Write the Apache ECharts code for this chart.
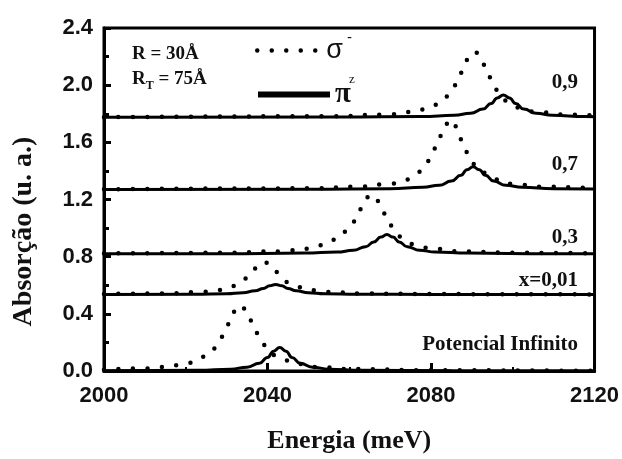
<!DOCTYPE html>
<html>
<head>
<meta charset="utf-8">
<style>html,body{margin:0;background:#fff}#chart{width:622px;height:459px}</style>
<script src="https://cdn.jsdelivr.net/npm/echarts@6/dist/echarts.min.js"></script>
</head>
<body>
<div id="chart"></div>
<script>
// [energy (meV), absorption (u. a.)], one pair of curves per panel
var sigmaInf = [[2000,0.008],[2010,0.018],[2015,0.028],[2020,0.051],[2023,0.077],[2025,0.108],[2027,0.158],[2029,0.24],[2030.5,0.327],[2032,0.417],[2033.5,0.46],[2035,0.417],[2036.5,0.327],[2038,0.24],[2040,0.158],[2042,0.108],[2044,0.077],[2047,0.051],[2052,0.028],[2060,0.014],[2080,0.005],[2120,0.001]];
var piInf = [[2000,0.001],[2023,0.005],[2031,0.013],[2035,0.027],[2038,0.054],[2040,0.095],[2041.5,0.139],[2043,0.165],[2044.5,0.139],[2046,0.095],[2048,0.054],[2051,0.027],[2055,0.013],[2063,0.005],[2085,0.0015],[2120,0.0005]];

var sigma001 = [[2000,0.539],[2015,0.542],[2024,0.553],[2028,0.567],[2031,0.588],[2033,0.615],[2034.7,0.647],[2036.2,0.692],[2037.7,0.741],[2039.2,0.765],[2040.7,0.741],[2042.2,0.692],[2043.7,0.647],[2045.2,0.615],[2047.2,0.588],[2050.2,0.567],[2054,0.553],[2064,0.542],[2080,0.538],[2120,0.536]];
var pi001 = [[2000,0.5355],[2022,0.5375],[2030,0.541],[2034,0.548],[2037,0.561],[2039,0.578],[2040.5,0.596],[2042,0.605],[2043.5,0.596],[2045,0.578],[2047,0.561],[2050,0.548],[2054,0.541],[2062,0.5375],[2080,0.536],[2120,0.535]];

var sigma03 = [[2000,0.822],[2030,0.827],[2043,0.837],[2050,0.856],[2054,0.882],[2057,0.923],[2059,0.974],[2060.7,1.032],[2062.2,1.111],[2063.7,1.195],[2065.2,1.235],[2066.7,1.195],[2068.2,1.111],[2069.7,1.032],[2071.2,0.974],[2073.2,0.923],[2076.2,0.882],[2080.2,0.856],[2087,0.837],[2100,0.827],[2120,0.823]];
var pi03 = [[2000,0.8205],[2029,0.821],[2049,0.825],[2057,0.832],[2061,0.845],[2064,0.869],[2066,0.903],[2067.7,0.937],[2069.2,0.955],[2070.7,0.937],[2072.2,0.903],[2074.2,0.869],[2077.2,0.845],[2081,0.832],[2089,0.825],[2109,0.821],[2120,0.8205]];

var sigma07 = [[2000,1.2715],[2050,1.278],[2063,1.29],[2070,1.31],[2074,1.34],[2076.7,1.388],[2078.7,1.446],[2080.2,1.515],[2081.7,1.609],[2083.2,1.711],[2084.7,1.76],[2086.2,1.711],[2087.7,1.609],[2089.2,1.515],[2090.7,1.446],[2092.7,1.388],[2095.7,1.34],[2099.7,1.31],[2106.7,1.29],[2120,1.278]];
var pi07 = [[2000,1.2705],[2050,1.2715],[2070,1.276],[2078,1.285],[2082,1.2995],[2085,1.329],[2087.3,1.369],[2088.8,1.408],[2090.3,1.43],[2091.8,1.408],[2093.3,1.369],[2095.3,1.329],[2098.3,1.2995],[2102.3,1.285],[2110,1.276],[2120,1.2735]];

var sigma09 = [[2000,1.776],[2055.7,1.7825],[2068.7,1.7935],[2075.7,1.8125],[2079.7,1.841],[2082.7,1.886],[2084.7,1.94],[2086.2,2.005],[2087.7,2.093],[2089.2,2.189],[2090.7,2.235],[2092.2,2.189],[2093.7,2.093],[2095.2,2.005],[2096.7,1.94],[2098.7,1.886],[2101.7,1.841],[2105.7,1.8125],[2112.7,1.7935],[2120,1.787]];
var pi09 = [[2000,1.7755],[2058,1.7765],[2077.7,1.7805],[2085.7,1.7895],[2089.7,1.804],[2092.7,1.8325],[2094.7,1.872],[2096.2,1.911],[2097.7,1.932],[2099.2,1.911],[2100.7,1.872],[2102.7,1.8325],[2105.7,1.804],[2109.7,1.7895],[2117.7,1.7805],[2120,1.779]];

var sigmaSets = [sigmaInf, sigma001, sigma03, sigma07, sigma09];
var piSets = [piInf, pi001, pi03, pi07, pi09];
var panelLabels = ['Potencial Infinito', 'x=0,01', '0,3', '0,7', '0,9'];
var labelY = [345, 281, 238, 165, 83];

var chart = echarts.init(document.getElementById('chart'));

var dotStyle = { color: '#000', width: 4.5, type: [0, 14.5], cap: 'round' };

var series = [];
piSets.forEach(function (d) {
  series.push({
    name: 'pi', type: 'line', data: d, smooth: 0.5, smoothMonotone: 'x',
    symbol: 'none', itemStyle: { color: '#000' }, lineStyle: { color: '#000', width: 3 }
  });
});
sigmaSets.forEach(function (d) {
  series.push({
    name: 'sigma', type: 'line', data: d, smooth: 0.5, smoothMonotone: 'x',
    symbol: 'none', itemStyle: { color: '#000' }, lineStyle: dotStyle
  });
});

var serif = '"Liberation Serif", "Times New Roman", serif';
var sans = '"Liberation Sans", Arial, sans-serif';
var graphics = panelLabels.map(function (t, i) {
  return {
    type: 'text', x: 578, y: labelY[i],
    style: { text: t, fill: '#111', align: 'right', verticalAlign: 'middle',
      font: 'bold 21px ' + serif }
  };
});
graphics.push({
  type: 'text', x: 132, y: 54,
  style: { text: 'R = 30Å', fill: '#111', verticalAlign: 'middle', font: 'bold 19px ' + serif }
});
graphics.push({
  type: 'text', x: 132, y: 79,
  style: {
    text: '{a|R}{s|T}{a| = 75Å}', fill: '#111', verticalAlign: 'middle',
    rich: {
      a: { fontFamily: serif, fontWeight: 'bold', fontSize: 19, fill: '#111' },
      s: { fontFamily: serif, fontWeight: 'bold', fontSize: 12, fill: '#111', padding: [13, 0, 0, 0] }
    }
  }
});
// superscripts of the legend symbols
graphics.push({
  type: 'text', x: 347, y: 38,
  style: { text: '-', fill: '#111', align: 'left', verticalAlign: 'middle', font: '15px ' + sans }
});
graphics.push({
  type: 'text', x: 349, y: 80,
  style: { text: 'z', fill: '#111', align: 'left', verticalAlign: 'middle', font: '13px ' + serif }
});

var hiddenSymbol = { color: 'rgba(0,0,0,0)', opacity: 0, borderWidth: 0 };

chart.setOption({
  animation: false,
  grid: { left: 104, right: 24, top: 28, bottom: 82, show: true, borderColor: '#000', borderWidth: 3 },
  legend: [{
    data: ['sigma'], left: 250, top: 32, itemWidth: 64, itemHeight: 14,
    itemStyle: hiddenSymbol,
    lineStyle: { color: '#000', width: 4.5, type: [0, 14.5], cap: 'round' },
    formatter: 'σ',
    textStyle: { fontFamily: sans, fontSize: 27, color: '#111' }
  }, {
    data: ['pi'], left: 250, top: 75, itemWidth: 72, itemHeight: 14,
    itemStyle: hiddenSymbol,
    lineStyle: { color: '#000', width: 6 },
    formatter: 'π',
    textStyle: { fontFamily: serif, fontSize: 29, fontWeight: 'bold', color: '#111' }
  }],
  xAxis: {
    type: 'value', min: 2000, max: 2120, interval: 40,
    name: 'Energia (meV)', nameLocation: 'middle', nameGap: 57,
    nameTextStyle: { fontFamily: serif, fontWeight: 'bold', fontSize: 26, color: '#111' },
    axisLine: { lineStyle: { color: '#000', width: 3 } },
    axisTick: { inside: true, length: 8, lineStyle: { width: 3, color: '#000' } },
    minorTick: { show: true, splitNumber: 2, length: 4, lineStyle: { width: 2, color: '#000' } },
    splitLine: { show: false },
    axisLabel: { margin: 14, fontFamily: sans, fontWeight: 'bold', fontSize: 22, color: '#111',
      formatter: function (v) { return String(v); } }
  },
  yAxis: {
    type: 'value', min: 0, max: 2.4, interval: 0.4,
    name: 'Absorção (u. a.)', nameLocation: 'middle', nameGap: 66,
    nameTextStyle: { fontFamily: serif, fontWeight: 'bold', fontSize: 28, color: '#111', padding: [0, 64, 0, 0] },
    axisLine: { lineStyle: { color: '#000', width: 3 } },
    axisTick: { inside: true, length: 7, lineStyle: { width: 3, color: '#000' } },
    minorTick: { show: true, splitNumber: 2, length: 5, lineStyle: { width: 3, color: '#000' } },
    splitLine: { show: false },
    axisLabel: { margin: 11, fontFamily: sans, fontWeight: 'bold', fontSize: 22, color: '#111',
      formatter: function (v) { return v.toFixed(1); } }
  },
  graphic: graphics,
  series: series
});
</script>
</body>
</html>
